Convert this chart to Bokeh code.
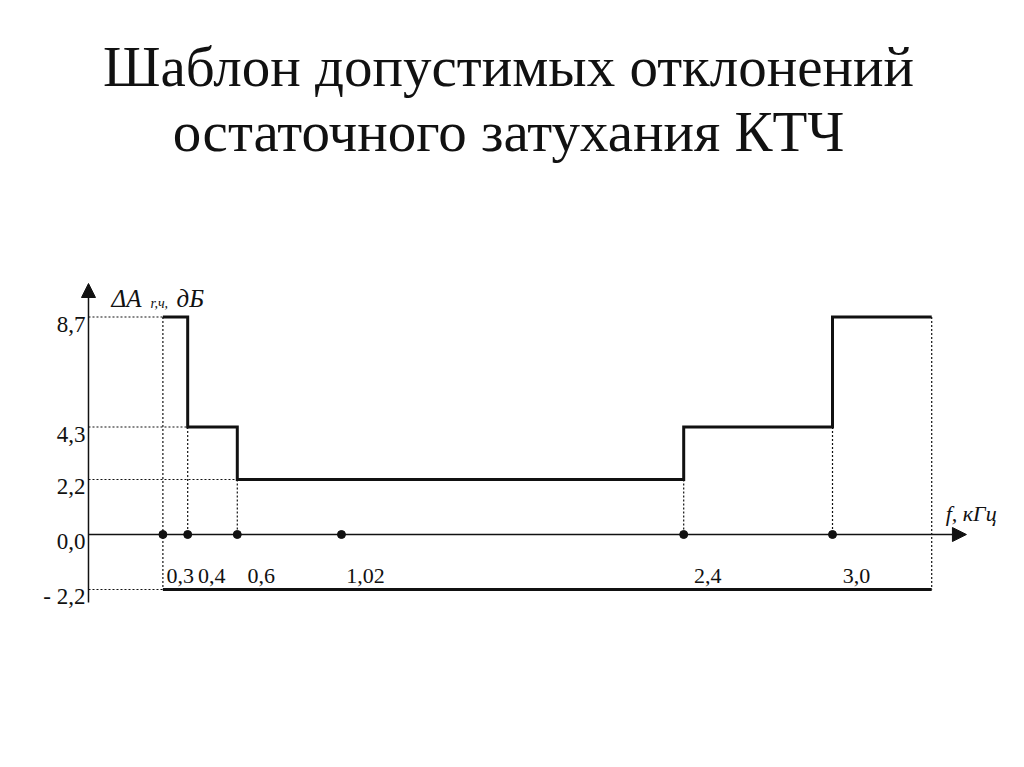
from bokeh.plotting import figure
from bokeh.models import ColumnDataSource, Arrow, NormalHead, Title
from bokeh.core.properties import value
from bokeh.embed import file_html
from bokeh.resources import INLINE

# ---------------- data ----------------
TITLE_LINES = ["Шаблон допустимых отклонений", "остаточного затухания КТЧ"]
EDGES_KHZ = [0.3, 0.4, 0.6, 2.4, 3.0, 3.4]          # band edges of the template
UPPER_DB = [8.7, 4.3, 2.2, 4.3, 8.7]               # upper limit in each band
LOWER_DB = -2.2                                      # lower limit over the whole band
MARKED_KHZ = [0.3, 0.4, 0.6, 1.02, 2.4, 3.0]
X_TICK_LABELS = ["0,3", "0,4", "0,6", "1,02", "2,4", "3,0"]
Y_TICK_VALUES = [8.7, 4.3, 2.2, 0.0, -2.2]
Y_TICK_LABELS = ["8,7", "4,3", "2,2", "0,0", "- 2,2"]
Y_LABEL_MAIN = "ΔA"
Y_LABEL_SUB = "r,ч,"
Y_LABEL_UNIT = "дБ"
X_LABEL = "f, кГц"

SERIF = "Liberation Serif"
INK = "#111111"

# ---------------- figure ----------------
W, H = 1016, 760
X_RANGE = (-0.3548, 3.7419)
p = figure(width=W, height=H, x_range=X_RANGE, y_range=(-9.04, 14.88),
           x_axis_location=None, y_axis_location=None, toolbar_location=None,
           output_backend="svg", min_border=0, min_border_top=162,
           background_fill_color="white", border_fill_color="white")
p.grid.visible = False
p.outline_line_color = None

# two-line title (second line added first so it sits closer to the plot)
for line in reversed(TITLE_LINES):
    p.add_layout(Title(text=line, align="center", text_font=SERIF,
                       text_font_size="57px", text_font_style="normal",
                       text_color=INK, standoff=0), "above")

# ---------------- axes with arrows ----------------
x_axis_end = EDGES_KHZ[-1] + 0.14
y_axis_bottom = LOWER_DB - 0.52
y_axis_top = max(UPPER_DB) + 1.34
p.add_layout(Arrow(end=NormalHead(size=14, fill_color=INK, line_color=INK),
                   x_start=0, y_start=0, x_end=x_axis_end, y_end=0,
                   line_color=INK, line_width=1.5))
p.add_layout(Arrow(end=NormalHead(size=14, fill_color=INK, line_color=INK),
                   x_start=0, y_start=y_axis_bottom, x_end=0, y_end=y_axis_top,
                   line_color=INK, line_width=1.5))

# ---------------- dotted guide lines ----------------
gx0, gy0, gx1, gy1 = [], [], [], []
n = len(UPPER_DB)
for i, edge in enumerate(EDGES_KHZ):
    if i == 0:
        top, bottom = UPPER_DB[0], LOWER_DB
    elif i == n:
        top, bottom = UPPER_DB[-1], LOWER_DB
    else:
        top, bottom = min(UPPER_DB[i - 1], UPPER_DB[i]), 0.0
    gx0.append(edge); gy0.append(top); gx1.append(edge); gy1.append(bottom)
lowest = min(UPPER_DB)
for i, lvl in enumerate(UPPER_DB):
    gx0.append(0.0); gy0.append(lvl); gx1.append(EDGES_KHZ[i]); gy1.append(lvl)
    if lvl == lowest:
        break
gx0.append(0.0); gy0.append(LOWER_DB); gx1.append(EDGES_KHZ[0]); gy1.append(LOWER_DB)
p.segment(x0=gx0, y0=gy0, x1=gx1, y1=gy1, line_color=INK, line_width=1.2,
          line_dash="2 2")

# ---------------- template ----------------
sx, sy = [], []
for i, lvl in enumerate(UPPER_DB):
    sx += [EDGES_KHZ[i], EDGES_KHZ[i + 1]]
    sy += [lvl, lvl]
p.line(sx, sy, line_color=INK, line_width=3, line_join="miter")
p.line([EDGES_KHZ[0], EDGES_KHZ[-1]], [LOWER_DB, LOWER_DB], line_color=INK,
       line_width=3)

# ---------------- marked frequencies ----------------
p.scatter(MARKED_KHZ, [0.0] * len(MARKED_KHZ), size=8, color=INK)

# ---------------- x tick labels (placed right of the points, nudged left
# when they would collide with the next label) ----------------
X_FONT = 22
px_per_khz = W / (X_RANGE[1] - X_RANGE[0])
def text_width(s, fs):
    return sum(0.25 if ch in ", " else 0.5 for ch in s) * fs
base_off = 24
centers = [f * px_per_khz + base_off for f in MARKED_KHZ]
widths = [text_width(t, X_FONT) for t in X_TICK_LABELS]
for i in range(len(centers) - 2, -1, -1):
    limit = centers[i + 1] - widths[i + 1] / 2 - 4
    if centers[i] + widths[i] / 2 > limit:
        centers[i] = limit - widths[i] / 2
x_offsets = [c - f * px_per_khz for c, f in zip(centers, MARKED_KHZ)]

xs_src = ColumnDataSource(dict(x=MARKED_KHZ, y=[0.0] * len(MARKED_KHZ),
                               t=X_TICK_LABELS, dx=x_offsets))
p.text(x="x", y="y", text="t", source=xs_src, text_font=value(SERIF),
       text_font_size=f"{X_FONT}px", text_color=INK, text_align="center",
       text_baseline="middle", x_offset="dx", y_offset=41)

ys_src = ColumnDataSource(dict(x=[0.0] * len(Y_TICK_VALUES), y=Y_TICK_VALUES,
                               t=Y_TICK_LABELS))
p.text(x="x", y="y", text="t", source=ys_src, text_font=value(SERIF),
       text_font_size="23px", text_color=INK, text_align="right",
       text_baseline="middle", x_offset=-3, y_offset=7)

# ---------------- axis titles ----------------
p.text(x=[0.0], y=[y_axis_top], text=[Y_LABEL_MAIN], text_font=value(SERIF),
       text_font_size="25px", text_font_style="italic", text_color=INK,
       text_align="left", text_baseline="alphabetic", x_offset=23, y_offset=15)
p.text(x=[0.0], y=[y_axis_top], text=[Y_LABEL_SUB], text_font=value(SERIF),
       text_font_size="14px", text_font_style="italic", text_color=INK,
       text_align="left", text_baseline="alphabetic", x_offset=62, y_offset=20)
p.text(x=[0.0], y=[y_axis_top], text=[Y_LABEL_UNIT], text_font=value(SERIF),
       text_font_size="25px", text_font_style="italic", text_color=INK,
       text_align="left", text_baseline="alphabetic", x_offset=88, y_offset=15)

p.text(x=[EDGES_KHZ[-1]], y=[0.0], text=[X_LABEL], text_font=value(SERIF),
       text_font_size="22px", text_font_style="italic", text_color=INK,
       text_align="left", text_baseline="alphabetic", x_offset=14, y_offset=-21)

open("out.html", "w").write(file_html(p, INLINE))
